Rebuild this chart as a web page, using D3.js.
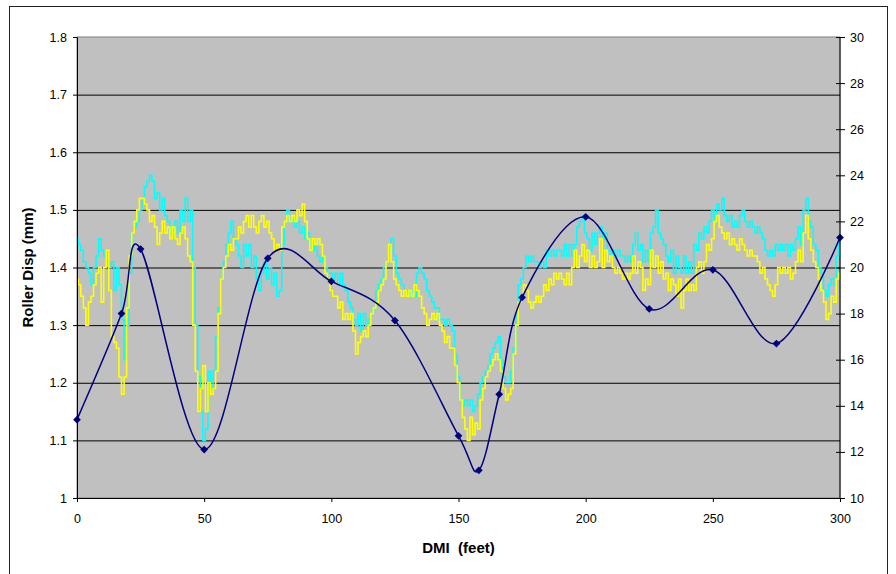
<!DOCTYPE html>
<html>
<head>
<meta charset="utf-8">
<script src="https://cdn.jsdelivr.net/npm/d3@7"></script>
<style>
  body { margin: 0; background: #fff; }
  text { font-family: Arial, "Liberation Sans", sans-serif; }
</style>
</head>
<body>
<svg id="chart" width="896" height="574"></svg>
<script>
// roller displacement traces, one reading per foot of DMI (0..300 ft)
var traceStep = 1;

var cyanDisp = [
	1.45,1.44,1.43,1.41,1.40,1.39,1.37,1.40,1.42,1.45,
	1.43,1.42,1.41,1.40,1.41,1.36,1.40,1.37,1.31,1.24,
	1.30,1.39,1.46,1.47,1.48,1.50,1.52,1.54,1.55,1.56,
	1.55,1.52,1.53,1.50,1.52,1.49,1.48,1.46,1.45,1.48,
	1.46,1.50,1.48,1.52,1.48,1.50,1.40,1.30,1.21,1.15,
	1.10,1.12,1.22,1.19,1.22,1.28,1.33,1.38,1.41,1.44,
	1.46,1.48,1.45,1.44,1.42,1.40,1.44,1.42,1.44,1.40,
	1.42,1.38,1.36,1.39,1.41,1.38,1.40,1.37,1.39,1.35,
	1.36,1.44,1.48,1.50,1.48,1.49,1.47,1.48,1.46,1.47,
	1.45,1.46,1.44,1.43,1.44,1.42,1.41,1.42,1.40,1.39,
	1.39,1.38,1.39,1.37,1.39,1.37,1.36,1.34,1.33,1.31,
	1.30,1.32,1.29,1.32,1.30,1.31,1.32,1.33,1.36,1.37,
	1.38,1.40,1.41,1.43,1.45,1.42,1.39,1.38,1.37,1.36,
	1.36,1.35,1.36,1.35,1.39,1.40,1.39,1.38,1.36,1.35,
	1.34,1.33,1.33,1.31,1.31,1.30,1.31,1.30,1.29,1.25,
	1.21,1.17,1.16,1.17,1.16,1.17,1.15,1.16,1.18,1.20,
	1.21,1.22,1.23,1.25,1.26,1.27,1.28,1.24,1.21,1.20,
	1.20,1.22,1.26,1.32,1.37,1.38,1.40,1.42,1.41,1.42,
	1.41,1.41,1.40,1.41,1.40,1.43,1.42,1.43,1.42,1.43,
	1.43,1.42,1.44,1.42,1.44,1.42,1.44,1.47,1.48,1.49,
	1.46,1.45,1.43,1.46,1.44,1.46,1.47,1.45,1.46,1.43,
	1.42,1.43,1.42,1.43,1.42,1.42,1.41,1.42,1.41,1.44,
	1.46,1.43,1.44,1.41,1.43,1.41,1.46,1.47,1.50,1.46,
	1.45,1.44,1.42,1.41,1.43,1.39,1.42,1.40,1.39,1.42,
	1.39,1.41,1.39,1.44,1.43,1.46,1.45,1.47,1.46,1.48,
	1.50,1.48,1.51,1.50,1.52,1.49,1.48,1.49,1.47,1.48,
	1.47,1.49,1.50,1.48,1.47,1.48,1.47,1.46,1.47,1.46,
	1.45,1.43,1.42,1.43,1.42,1.44,1.43,1.44,1.43,1.44,
	1.42,1.44,1.43,1.45,1.47,1.44,1.50,1.52,1.48,1.47,
	1.44,1.43,1.40,1.39,1.36,1.35,1.37,1.38,1.37,1.42,
	1.44
];

var yellowDisp = [
	1.38,1.37,1.35,1.33,1.30,1.34,1.35,1.37,1.39,1.40,
	1.34,1.40,1.43,1.36,1.28,1.27,1.26,1.21,1.18,1.21,
	1.33,1.42,1.46,1.48,1.50,1.52,1.52,1.51,1.50,1.48,
	1.49,1.47,1.44,1.46,1.48,1.46,1.47,1.45,1.47,1.45,
	1.44,1.46,1.47,1.45,1.42,1.41,1.30,1.22,1.15,1.19,
	1.23,1.15,1.20,1.18,1.19,1.22,1.32,1.38,1.40,1.42,
	1.44,1.43,1.45,1.45,1.47,1.46,1.48,1.49,1.47,1.49,
	1.47,1.46,1.48,1.49,1.47,1.48,1.46,1.45,1.43,1.44,
	1.43,1.47,1.48,1.49,1.48,1.49,1.48,1.50,1.49,1.51,
	1.48,1.45,1.43,1.45,1.44,1.45,1.44,1.42,1.39,1.38,
	1.36,1.35,1.35,1.33,1.34,1.31,1.32,1.31,1.32,1.29,
	1.25,1.27,1.28,1.29,1.28,1.30,1.32,1.33,1.34,1.36,
	1.37,1.38,1.41,1.44,1.41,1.38,1.37,1.36,1.35,1.36,
	1.35,1.36,1.35,1.37,1.36,1.35,1.33,1.32,1.30,1.31,
	1.32,1.31,1.32,1.30,1.29,1.27,1.28,1.26,1.26,1.23,
	1.20,1.17,1.14,1.12,1.10,1.14,1.11,1.13,1.12,1.17,
	1.19,1.21,1.22,1.23,1.24,1.25,1.24,1.22,1.19,1.17,
	1.18,1.19,1.25,1.30,1.34,1.35,1.37,1.36,1.34,1.33,
	1.34,1.35,1.34,1.35,1.37,1.36,1.38,1.37,1.39,1.38,
	1.39,1.38,1.37,1.39,1.37,1.40,1.43,1.40,1.42,1.44,
	1.41,1.43,1.40,1.42,1.40,1.41,1.45,1.40,1.43,1.41,
	1.42,1.40,1.39,1.40,1.39,1.38,1.39,1.38,1.39,1.42,
	1.39,1.41,1.40,1.36,1.38,1.37,1.43,1.40,1.42,1.39,
	1.41,1.38,1.39,1.36,1.38,1.37,1.35,1.38,1.33,1.36,
	1.38,1.36,1.37,1.36,1.40,1.41,1.39,1.41,1.44,1.43,
	1.45,1.48,1.49,1.47,1.46,1.45,1.46,1.44,1.45,1.44,
	1.43,1.45,1.44,1.43,1.42,1.43,1.42,1.42,1.41,1.39,
	1.40,1.38,1.37,1.36,1.35,1.37,1.40,1.39,1.40,1.39,
	1.40,1.38,1.39,1.41,1.43,1.41,1.46,1.49,1.45,1.43,
	1.41,1.40,1.38,1.36,1.34,1.31,1.32,1.35,1.34,1.38,
	1.39
];

// right axis series (smoothed line with diamonds)
var pointFeet = [0, 17.5, 25, 50, 75, 100, 125, 150, 158, 166, 175, 200, 225, 250, 275, 300];
var pointValues = [13.4, 18.0, 20.8, 12.1, 20.4, 19.4, 17.7, 12.7, 11.2, 14.5, 18.7, 22.2, 18.2, 19.9, 16.7, 21.3];

var leftTicks = [1, 1.1, 1.2, 1.3, 1.4, 1.5, 1.6, 1.7, 1.8];
var rightTicks = [10, 12, 14, 16, 18, 20, 22, 24, 26, 28, 30];
var xTicks = [0, 50, 100, 150, 200, 250, 300];

var svg = d3.select("#chart"),

margin = {
	top: 37,
	right: 56,
	bottom: 76,
	left: 77
},
width = 896 - margin.left - margin.right,
height = 574 - margin.top - margin.bottom;

// outer chart frame
svg.append("rect")
	.attr("x", 9.5)
	.attr("y", 6.5)
	.attr("width", 878)
	.attr("height", 580)
	.attr("fill", "#fff")
	.attr("stroke", "#222")
	.attr("stroke-width", 1);

var g = svg.append("g").attr("transform", "translate(" + margin.left + "," + margin.top + ")");

var x = d3.scaleLinear().domain([0, 300]).range([0, width]);
var yL = d3.scaleLinear().domain([1, 1.8]).range([height, 0]);
var yR = d3.scaleLinear().domain([10, 30]).range([height, 0]);

// plot area
g.append("rect")
	.attr("width", width)
	.attr("height", height)
	.attr("fill", "#c0c0c0")
	.attr("stroke", "#808080");

// gridlines
g.append("g")
	.call(d3.axisLeft(yL).tickValues(leftTicks.slice(1, -1)).tickSize(-width).tickFormat(""))
	.call(function (s) { s.select(".domain").remove(); })
	.selectAll("line")
		.attr("stroke", "#000")
		.attr("stroke-width", 1);

var cyanData = cyanDisp.map(function (v, i) { return {ft: i * traceStep, v: v}; });
var yellowData = yellowDisp.map(function (v, i) { return {ft: i * traceStep, v: v}; });

var traceLine = d3.line()
	.curve(d3.curveStep)
	.x(function (d) { return x(d.ft); })
	.y(function (d) { return yL(d.v); });

g.append("path")
	.datum(cyanData)
	.attr("fill", "none")
	.attr("stroke", "#00ffff")
	.attr("stroke-width", 1.6)
	.attr("d", traceLine);

g.append("path")
	.datum(yellowData)
	.attr("fill", "none")
	.attr("stroke", "#ffff00")
	.attr("stroke-width", 1.6)
	.attr("d", traceLine);

var pts = pointFeet.map(function (f, i) { return {ft: f, v: pointValues[i]}; });

g.append("path")
	.datum(pts)
	.attr("fill", "none")
	.attr("stroke", "#000080")
	.attr("stroke-width", 1.5)
	.attr("d", d3.line()
		.curve(d3.curveCardinal.tension(0))
		.x(function (d) { return x(d.ft); })
		.y(function (d) { return yR(d.v); }));

g.selectAll(".pt")
	.data(pts)
	.enter().append("path")
	.attr("class", "pt")
	.attr("fill", "#000080")
	.attr("d", d3.symbol(d3.symbolSquare).size(30))
	.attr("transform", function (d) {
		return "translate(" + x(d.ft) + "," + yR(d.v) + ") rotate(45)";
	});

// axes
var axL = g.append("g")
	.call(d3.axisLeft(yL).tickValues(leftTicks).tickSize(4).tickPadding(6)
		.tickFormat(function (d) { return +d.toFixed(1); }));

var axR = g.append("g")
	.attr("transform", "translate(" + width + ",0)")
	.call(d3.axisRight(yR).tickValues(rightTicks).tickSize(5).tickPadding(5));
axR.selectAll(".tick line").attr("x1", -4);

var axB = g.append("g")
	.attr("transform", "translate(0," + height + ")")
	.call(d3.axisBottom(x).tickValues(xTicks).tickSize(4).tickPadding(12));

[axL, axR, axB].forEach(function (a) {
	a.select(".domain").attr("stroke", "#000");
	a.selectAll(".tick line").attr("stroke", "#000");
	a.selectAll("text")
		.attr("font-size", "12.5px")
		.attr("font-family", "Arial, 'Liberation Sans', sans-serif")
		.attr("fill", "#000");
});
axR.select(".domain").remove();
g.append("line")
	.attr("x1", width).attr("x2", width)
	.attr("y1", 0).attr("y2", height)
	.attr("stroke", "#000");

// titles
g.append("text")
	.attr("text-anchor", "middle")
	.attr("transform", "translate(-44," + height / 2 + ") rotate(-90)")
	.attr("font-size", "15px")
	.attr("font-weight", "bold")
	.text("Roller Disp (mm)");

g.append("text")
	.attr("text-anchor", "middle")
	.attr("x", width / 2)
	.attr("y", height + 55)
	.attr("font-size", "15px")
	.attr("font-weight", "bold")
	.style("white-space", "pre")
	.text("DMI  (feet)");
</script>
</body>
</html>
